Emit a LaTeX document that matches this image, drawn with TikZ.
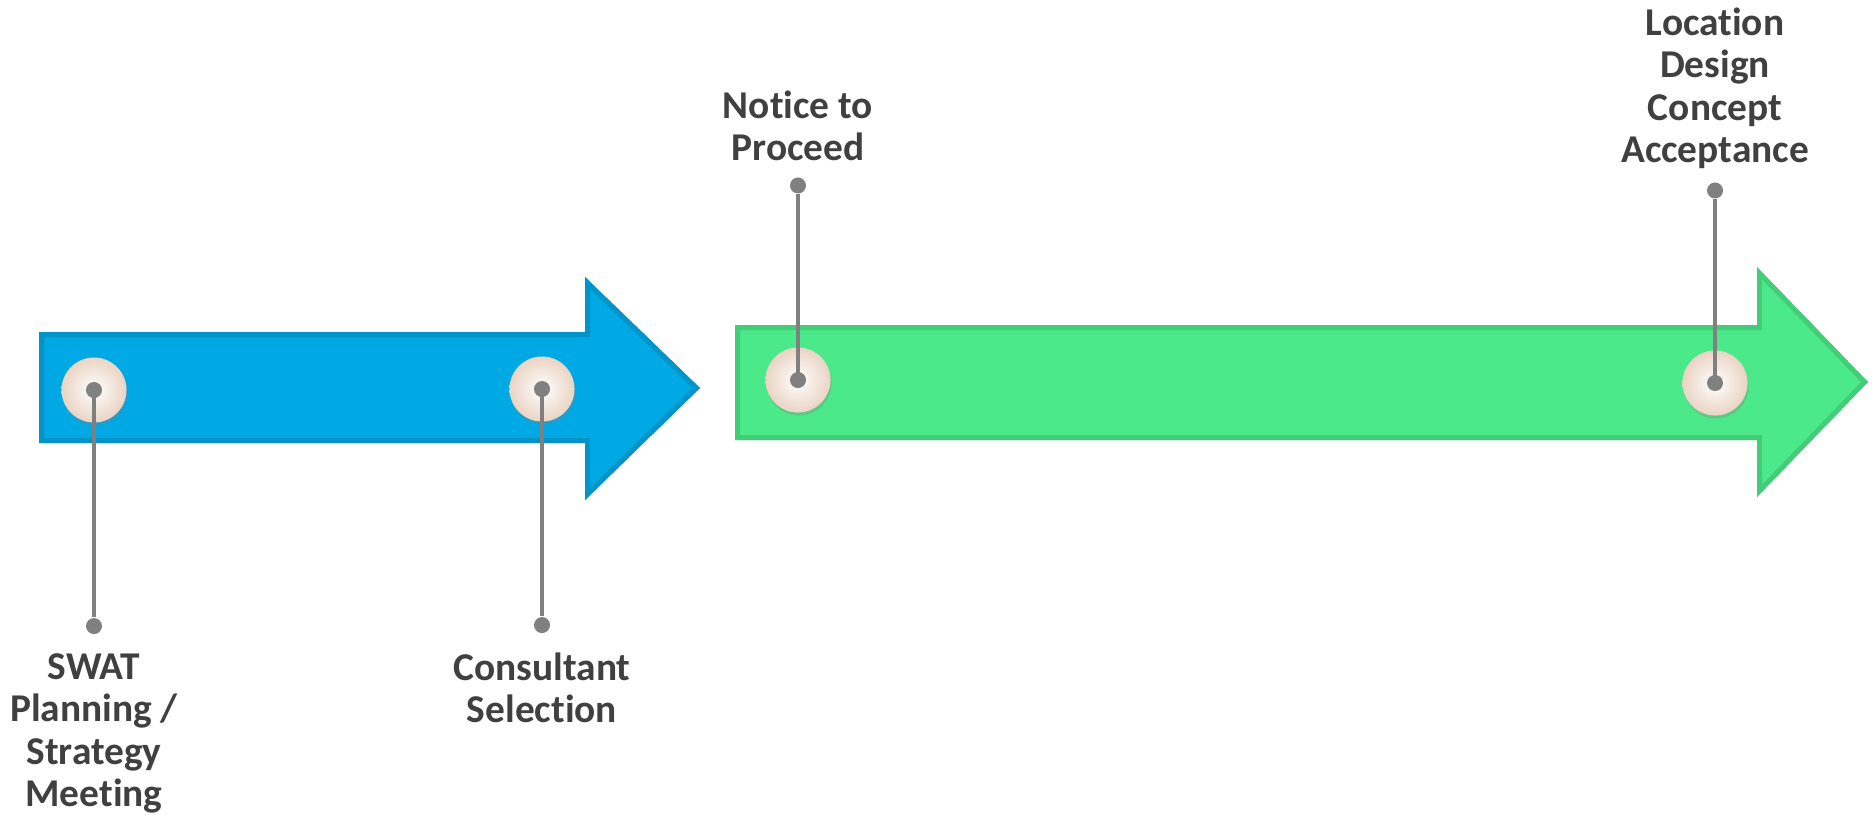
\documentclass[tikz,border=0pt]{standalone}
\usepackage{fontspec}
\setmainfont{Carlito}[Ligatures=NoCommon]
\usetikzlibrary{positioning, shadows}
\definecolor{phaseblue}{RGB}{0,168,228}
\definecolor{phasegreen}{RGB}{76,233,138}
\definecolor{labelgray}{RGB}{64,64,64}
\definecolor{stemgray}{RGB}{128,128,128}
\definecolor{pearl}{RGB}{234,212,196}
\tikzstyle{rim} = [
  draw=white,
  fill=white,
  line width=0.14cm,
  line join=round,
  drop shadow={opacity=0.18, shadow xshift=0.02cm, shadow yshift=-0.03cm}
]
\tikzstyle{milestone} = [
  circle,
  minimum size=0.65cm,
  inner sep=0pt,
  inner color=white,
  outer color=pearl,
  drop shadow={opacity=0.3, shadow xshift=0.01cm, shadow yshift=-0.03cm}
]
\tikzstyle{pin} = [
  circle,
  fill=stemgray,
  minimum size=0.16cm,
  inner sep=0pt
]
\tikzstyle{stem} = [stemgray, line width=0.045cm]
\tikzstyle{milestonetext} = [
  align=center,
  inner sep=0pt,
  text=labelgray,
  font=\fontsize{11.2pt}{12.1pt}\selectfont\bfseries
]
\def\bluephase{(39,332) -- (585,332) -- (585,277) -- (700,388) -- (585,500) -- (585,443) -- (39,443) -- cycle}
\def\greenphase{(735,325) -- (1757,325) -- (1757,267) -- (1868,382) -- (1757,497) -- (1757,440) -- (735,440) -- cycle}

\begin{document}
\begin{tikzpicture}[x=0.01cm, y=-0.01cm]
    \useasboundingbox (0,0) rectangle (1874,814);

    % phase arrows
    \path[rim] \bluephase;
    \begin{scope}
      \clip \bluephase;
      \fill[phaseblue] \bluephase;
      \draw[phaseblue!88!black, line width=0.1cm] \bluephase;
    \end{scope}
    \path[rim] \greenphase;
    \begin{scope}
      \clip \greenphase;
      \fill[phasegreen] \greenphase;
      \draw[phasegreen!88!black, line width=0.1cm] \greenphase;
    \end{scope}

    % milestones
    \node (swat) [milestone] at (94,390) {};
    \node (consultant) [milestone] at (542,389) {};
    \node (notice) [milestone] at (798,380) {};
    \node (location) [milestone] at (1715,383) {};

    \node (swat-end) [pin, below=1.94cm of swat] {};
    \node (consultant-end) [pin, below=1.94cm of consultant] {};
    \node (notice-end) [pin, above=1.525cm of notice] {};
    \node (location-end) [pin, above=1.505cm of location] {};

    \draw [stem] (swat.center) -- (swat-end);
    \draw [stem] (consultant.center) -- (consultant-end);
    \draw [stem] (notice.center) -- (notice-end);
    \draw [stem] (location.center) -- (location-end);

    \node (swat-hub) [pin] at (swat.center) {};
    \node (consultant-hub) [pin] at (consultant.center) {};
    \node (notice-hub) [pin] at (notice.center) {};
    \node (location-hub) [pin] at (location.center) {};

    \node (swat-text) [milestonetext, below=0.18cm of swat-end] {SWAT\\Planning /\\Strategy\\Meeting};
    \node (consultant-text) [milestonetext, below=0.18cm of consultant-end] {Consultant\\Selection};
    \node (notice-text) [milestonetext, above=0.15cm of notice-end] {Notice to\\Proceed};
    \node (location-text) [milestonetext, above=0.12cm of location-end] {Location\\Design\\Concept\\Acceptance};
  \end{tikzpicture}
\end{document}
